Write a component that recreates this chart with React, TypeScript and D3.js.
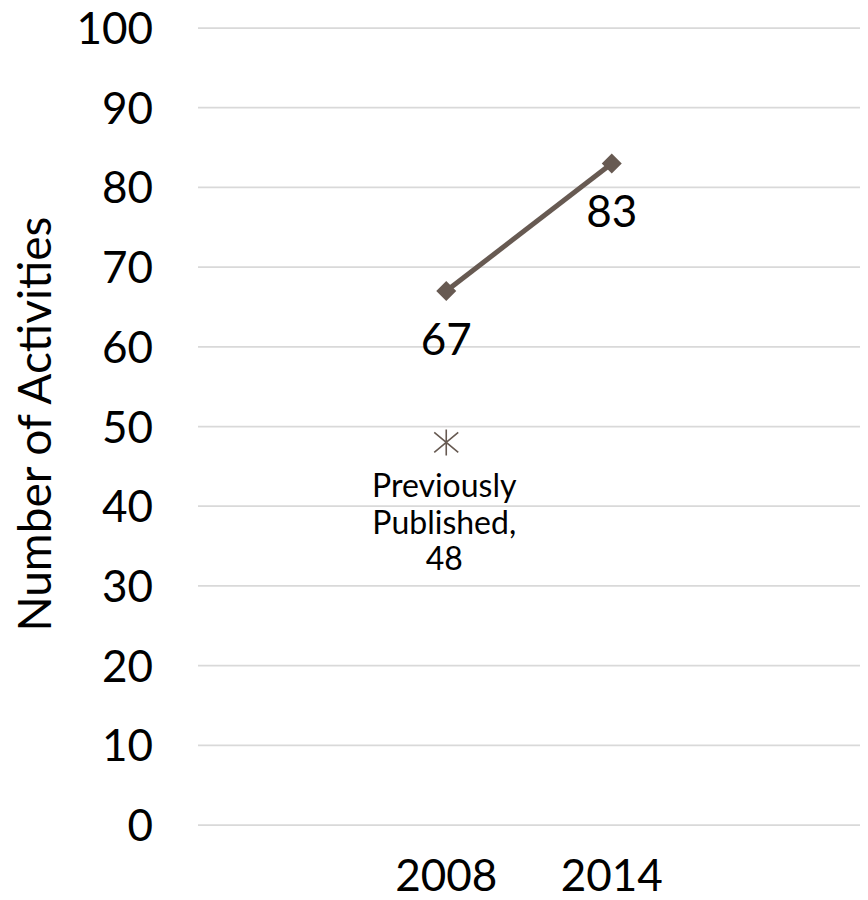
import React from "react";
import * as d3 from "d3";

const slots = ["padL", "2008", "2014", "padR"];
const categories = ["2008", "2014"];
const values = [67, 83];
const previousCategory = "2008";
const previousValue = 48;
const previousLabel = ["Previously", "Published,", "48"];
const yTicks = [0, 10, 20, 30, 40, 50, 60, 70, 80, 90, 100];
const yTitle = "Number of Activities";

const W = 868;
const H = 900;
const M = { left: 198, right: 860, top: 28, bottom: 825 };
const LINE = "#675A52";
const FONT = "Lato, 'Open Sans', sans-serif";

export default function App() {
  const x = d3.scaleBand<string>().domain(slots).range([M.left, M.right]);
  const y = d3.scaleLinear().domain([0, 100]).range([M.bottom, M.top]);
  const cx = (c: string) => (x(c) as number) + x.bandwidth() / 2;

  const pts = categories.map((c, i) => [cx(c), y(values[i])] as [number, number]);
  const line = d3.line()(pts) as string;
  const diamond = d3.symbol().type(d3.symbolSquare).size(200)() as string;

  const px = cx(previousCategory);
  const py = y(previousValue);
  const sv = 13, sdx = 12, sdy = 10;
  const star = `M0,${-sv}L0,${sv}M${-sdx},${-sdy}L${sdx},${sdy}M${-sdx},${sdy}L${sdx},${-sdy}`;

  return (
    <svg width={W} height={H} style={{ position: "absolute", left: 0, top: 0, background: "#fff" }}>
      <rect width={W} height={H} fill="#fff" />
      {yTicks.map((t) => (
        <g key={t}>
          <line x1={M.left} x2={M.right} y1={y(t)} y2={y(t)} stroke="#d9d9d9" strokeWidth={1.75} />
          <text x={153} y={y(t) + 16} textAnchor="end" fontFamily={FONT} fontSize={44} fill="#000">
            {t}
          </text>
        </g>
      ))}
      <text
        transform={`translate(${51},${424}) rotate(-90)`}
        textAnchor="middle"
        fontFamily={FONT}
        fontSize={46}
        fill="#000"
      >
        {yTitle}
      </text>
      {categories.map((c) => (
        <text key={c} x={cx(c)} y={M.bottom + 66} textAnchor="middle" fontFamily={FONT} fontSize={44} fill="#000">
          {c}
        </text>
      ))}
      <path d={line} fill="none" stroke={LINE} strokeWidth={5} />
      {pts.map(([a, b], i) => (
        <g key={i}>
          <path d={diamond} transform={`translate(${a},${b}) rotate(45)`} fill={LINE} />
          <text x={a} y={b + 64} textAnchor="middle" fontFamily={FONT} fontSize={44} fill="#000">
            {values[i]}
          </text>
        </g>
      ))}
      <path d={star} transform={`translate(${px},${py})`} stroke={LINE} strokeWidth={1.6} fill="none" />
      {previousLabel.map((s, i) => (
        <text key={i} x={px - 2} y={py + 55 + i * 36.5} textAnchor="middle" fontFamily={FONT} fontSize={32} fill="#000">
          {s}
        </text>
      ))}
    </svg>
  );
}
